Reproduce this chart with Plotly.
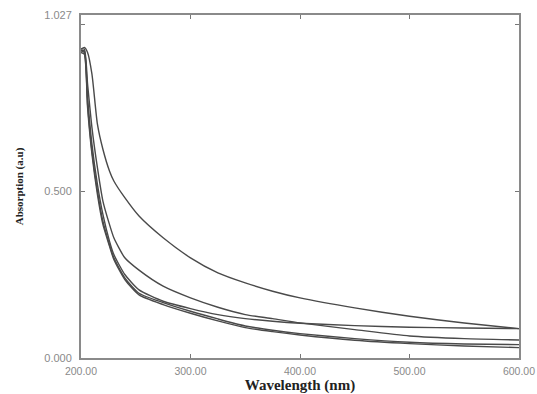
import plotly.graph_objects as go

wavelength = [200, 203, 206, 210, 215, 220, 226, 230, 240, 253, 275, 300, 325, 350, 375, 400, 450, 500, 550, 600]

curve_a = [0.925, 0.93, 0.915, 0.85, 0.70, 0.625, 0.56, 0.53, 0.48, 0.425, 0.36, 0.30, 0.255, 0.225, 0.20, 0.18, 0.15, 0.125, 0.105, 0.088]
curve_b = [0.925, 0.925, 0.82, 0.69, 0.57, 0.47, 0.40, 0.36, 0.30, 0.263, 0.215, 0.18, 0.152, 0.13, 0.118, 0.105, 0.085, 0.066, 0.058, 0.054]
curve_c = [0.92, 0.92, 0.78, 0.64, 0.52, 0.43, 0.35, 0.31, 0.25, 0.204, 0.17, 0.148, 0.13, 0.118, 0.11, 0.104, 0.097, 0.092, 0.09, 0.088]
curve_d = [0.92, 0.915, 0.76, 0.62, 0.50, 0.41, 0.34, 0.30, 0.24, 0.194, 0.166, 0.14, 0.117, 0.096, 0.083, 0.073, 0.058, 0.047, 0.042, 0.040]
curve_e = [0.915, 0.91, 0.75, 0.61, 0.49, 0.40, 0.335, 0.295, 0.235, 0.189, 0.16, 0.134, 0.111, 0.091, 0.079, 0.069, 0.053, 0.043, 0.036, 0.031]

x_tick_vals = [200, 300, 400, 500, 600]
x_tick_text = ["200.00", "300.00", "400.00", "500.00", "600.00"]
y_tick_vals = [0, 0.5, 1.0, 1.027]
y_tick_text = ["0.000", "0.500", "", "1.027"]

fig = go.Figure()
for ys in [curve_a, curve_b, curve_c, curve_d, curve_e]:
    fig.add_trace(go.Scatter(x=wavelength, y=ys, mode="lines",
                             line=dict(color="#4a4a4a", width=1.4, shape="spline", smoothing=0.6),
                             showlegend=False, hoverinfo="skip"))

axis_common = dict(showgrid=False, zeroline=False, showline=True, linecolor="#8a8a8a", linewidth=2,
                   mirror="ticks", ticks="inside", ticklen=4, tickcolor="#777777",
                   automargin=False, ticklabeloverflow="allow")

fig.update_layout(
    width=537, height=394,
    margin=dict(l=81, r=18, t=15, b=36),
    paper_bgcolor="white", plot_bgcolor="white",
    xaxis=dict(range=[200, 600], tickvals=x_tick_vals, ticktext=x_tick_text,
               ticklabelstandoff=2,
               tickfont=dict(family="Liberation Sans", size=10.5, color="#8a8a8a"),
               title=dict(text="<b>Wavelength (nm)</b>", standoff=1,
                          font=dict(family="Liberation Serif", size=15, color="#222222")),
               **axis_common),
    yaxis=dict(range=[0, 1.027], tickvals=y_tick_vals, ticktext=y_tick_text,
               ticklabelstandoff=5,
               tickfont=dict(family="Liberation Sans", size=11, color="#8a8a8a"),
               title=dict(text="<b>Absorption (a.u)</b>", standoff=18,
                          font=dict(family="Liberation Serif", size=11, color="#222222")),
               **axis_common),
)

fig.write_html("out.html")
